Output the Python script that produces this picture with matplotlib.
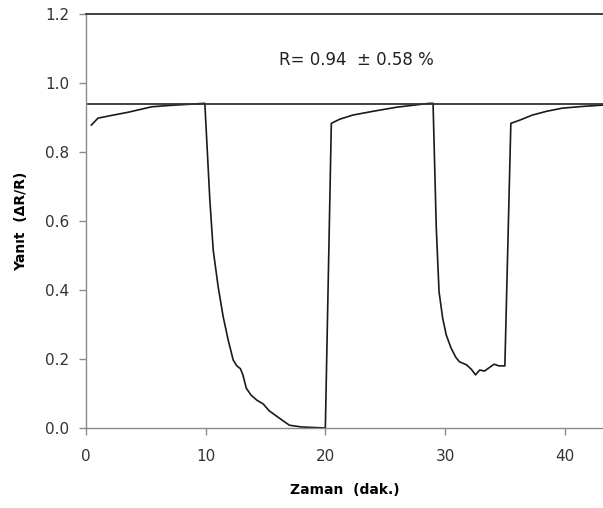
import matplotlib
matplotlib.use("Agg")
import matplotlib.pyplot as plt
import numpy as np

# zaman (dak.) ve yanit degerleri
zaman = [0.45, 1.0, 2.0, 3.5, 5.5, 7.0, 8.5, 9.93,
         10.35, 10.63, 11.04, 11.46, 11.88, 12.3, 12.6, 12.9, 13.1, 13.4, 13.8, 14.3, 14.8, 15.3, 15.9,
         16.5, 17.0, 18.0, 20.0,
         20.5, 21.2, 22.3, 24.0, 26.0, 28.7, 29.0,
         29.27, 29.5, 29.8, 30.1, 30.5, 30.9, 31.2, 31.8, 32.2, 32.55, 32.9, 33.3, 33.7, 34.1, 34.5, 35.0,
         35.5, 36.3, 37.3, 38.5, 39.8, 41.5, 43.2]
yanit = [0.878, 0.898, 0.905, 0.915, 0.931, 0.935, 0.938, 0.941,
         0.66, 0.516, 0.41, 0.323, 0.255, 0.197, 0.18, 0.172, 0.155, 0.115, 0.095, 0.08, 0.07, 0.05, 0.035,
         0.02, 0.008, 0.003, 0.0,
         0.883, 0.895, 0.907, 0.918, 0.93, 0.941, 0.941,
         0.579, 0.395, 0.319, 0.27, 0.232, 0.205, 0.192, 0.183, 0.17, 0.154, 0.168, 0.165, 0.175, 0.185, 0.18, 0.18,
         0.883, 0.893, 0.907, 0.918, 0.927, 0.932, 0.936]
ortalama = 0.94
x_ticks = [0, 10, 20, 30, 40]
y_ticks = [0.0, 0.2, 0.4, 0.6, 0.8, 1.0, 1.2]
etiket = "R= 0.94  \u00b1 0.58 %"

fig = plt.figure(figsize=(6.03, 5.08), dpi=100)
ax = fig.add_axes([0.1426, 0.1575, 0.8574, 0.815])

ax.plot(zaman, yanit, color="#1a1a1a", lw=1.2)
ax.axhline(ortalama, color="#333333", lw=1.3)

ax.set_xlim(0, 43.2)
ax.set_ylim(0, 1.2)
ax.set_xticks(x_ticks)
ax.set_yticks(y_ticks)
ax.set_yticklabels(["%.1f" % v for v in y_ticks])

ax.spines["right"].set_visible(False)
ax.spines["top"].set_color("#333333")
ax.spines["top"].set_linewidth(1.3)
for s in ["left", "bottom"]:
    ax.spines[s].set_color("#8a8a8a")
    ax.spines[s].set_linewidth(1.0)
ax.tick_params(direction="out", length=5, width=1.0, color="#8a8a8a",
               labelsize=11, labelcolor="#333333")
ax.tick_params(axis="x", pad=10)
ax.tick_params(axis="y", pad=7)

ax.text(22.6, 1.067, etiket, fontsize=12, color="#222222", ha="center", va="center")

ax.set_xlabel("Zaman  (dak.)", fontsize=10, fontweight="bold", labelpad=14)
ax.set_ylabel("Yan\u0131t  (\u0394R/R)", fontsize=10, fontweight="bold", labelpad=12)

fig.savefig("out.png", dpi=100)
